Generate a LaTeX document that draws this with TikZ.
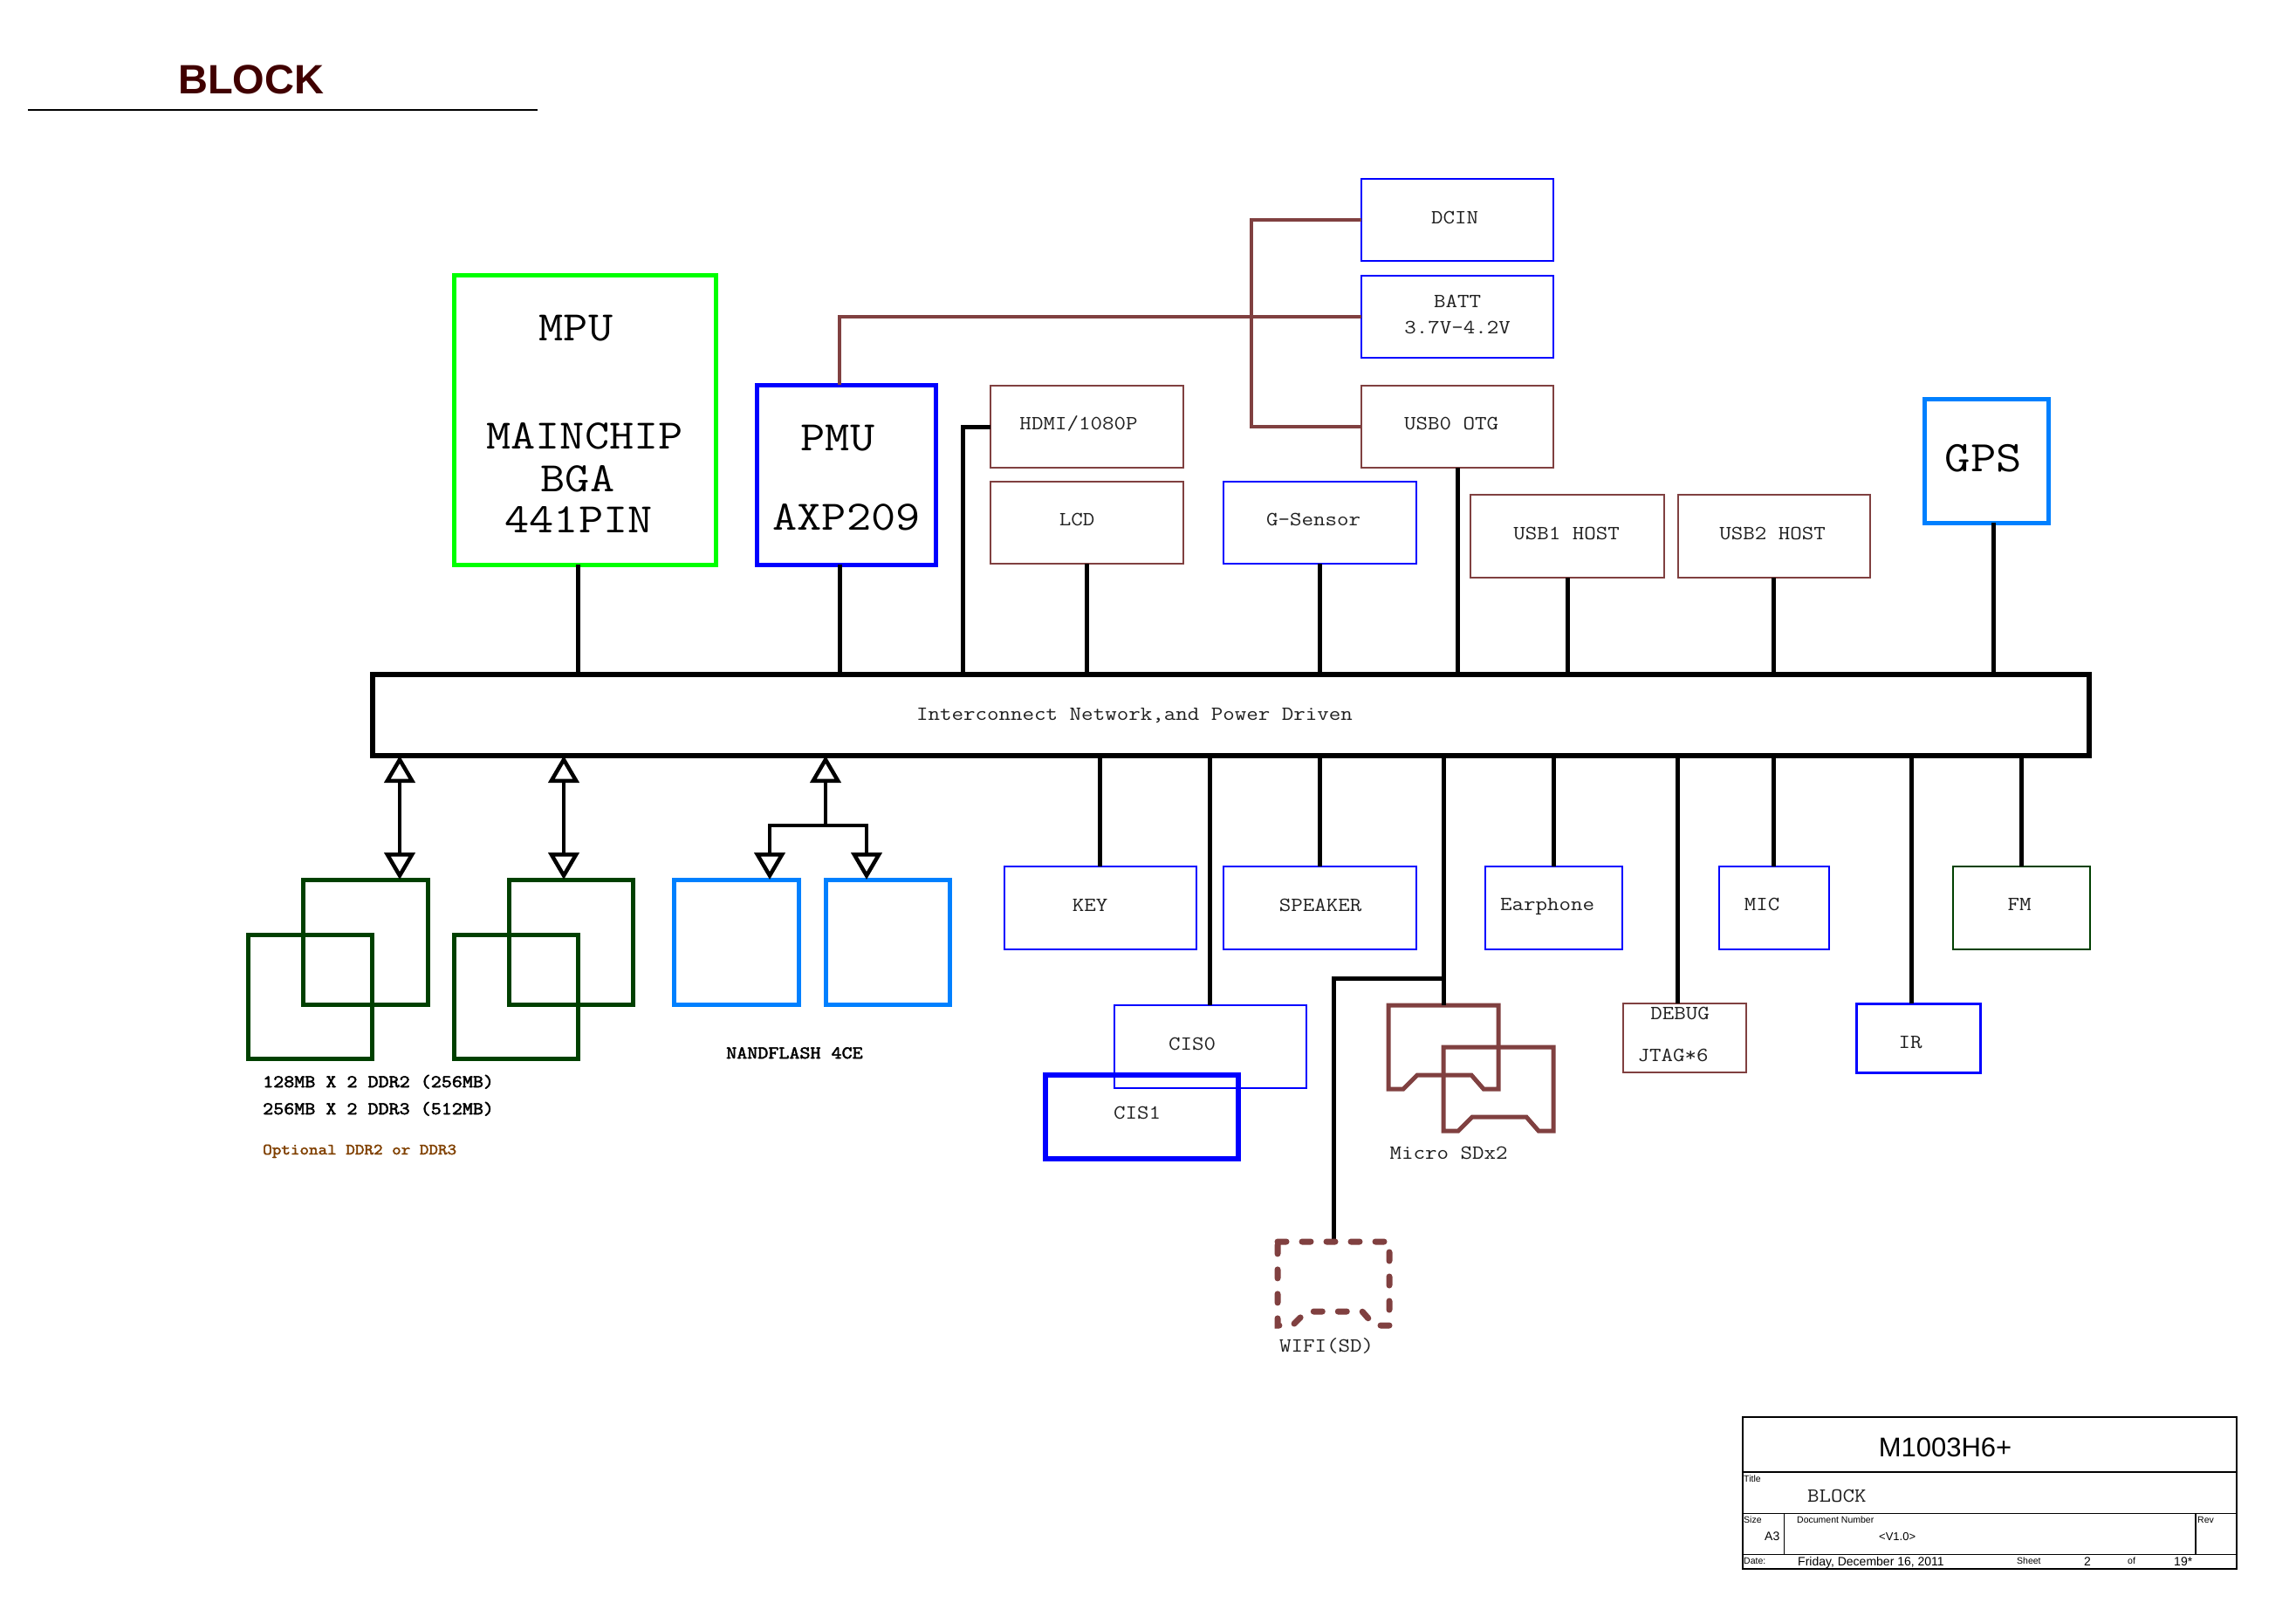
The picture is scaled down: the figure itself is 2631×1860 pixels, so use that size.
\documentclass[tikz,border=0pt]{standalone}
\usepackage{fontspec}
\newfontfamily\mono[FakeStretch=1.14]{Latin Modern Mono}
\newfontfamily\monob[FakeStretch=1.14,FakeBold=2.5]{Latin Modern Mono}
\newfontfamily\sansf{Liberation Sans}
\usetikzlibrary{arrows.meta}
\definecolor{brn}{HTML}{804040}
\definecolor{gblue}{HTML}{0080FF}
\definecolor{dgreen}{HTML}{004000}
\definecolor{orng}{HTML}{804000}
\definecolor{ttl}{HTML}{400000}
\definecolor{txt}{HTML}{202020}
\newcommand\boxat[6]{\node[#1,anchor=north west,minimum width={#5-#3},minimum height={#6-#4},inner sep=0pt,outer sep=0pt] (#2) at (#3,#4) {};}
\newcommand\sdshape[4]{\draw[#1] (#2,#3) -- ++(#4,0) -- ++(0,96) -- ++(-17,0) -- ++(-14,-16) -- ++({-#4+64},0) -- ++(-16,16) -- ++(-17,0) -- cycle;}
\tikzset{
  thinb/.style={draw=blue,line width=2pt},
  thinbr/.style={draw=brn,line width=2pt},
  ddrbox/.style={draw=dgreen,line width=5pt},
  nandbox/.style={draw=gblue,line width=5pt},
  conn/.style={draw=black,line width=5pt},
  pwr/.style={draw=brn,line width=4.5pt},
  lbl/.style={font=\mono\fontsize{23}{27}\selectfont,text=txt,inner sep=0pt,anchor=base},
  biglbl/.style={font=\mono\fontsize{48}{56}\selectfont,text=black,inner sep=0pt,anchor=base},
  ddrtxt/.style={font=\monob\fontsize{20.5}{24}\selectfont,text=black,inner sep=0pt,anchor=base west},
  tiny/.style={font=\sansf\fontsize{10.5}{12}\selectfont,inner sep=0pt,anchor=base west},
  smalltb/.style={font=\sansf\fontsize{14}{16}\selectfont,inner sep=0pt,anchor=base west},
  oatip/.tip={Triangle[open,length=31pt,width=35pt]},
  dblarr/.style={oatip-oatip,line width=4.5pt},
  downarr/.style={-oatip,line width=4.5pt},
}
\begin{document}
\begin{tikzpicture}[x=1pt,y=-1pt]
\useasboundingbox (0,0) rectangle (2631,1860);
\fill[white] (0,0) rectangle (2631,1860);

% page title
\node[font=\sansf\bfseries\fontsize{47}{56}\selectfont,text=ttl,anchor=base west,inner sep=0pt] (title) at (204,107) {BLOCK};
\coordinate (ulA) at (32,126);
\coordinate (ulB) at (616,126);
\draw[line width=1.5pt] (ulA) -- (ulB);

% MPU and PMU
\boxat{draw=green,line width=5pt}{mpu}{520}{315}{820}{647}
\node[biglbl] (tmpu) at (660,390) {MPU};
\node[biglbl] (tmain) at (670,514) {MAINCHIP};
\node[biglbl] (tbga) at (662,563) {BGA};
\node[biglbl] (tpin) at (663,610) {441PIN};
\boxat{draw=blue,line width=5pt}{pmu}{867}{441}{1072}{647}
\node[biglbl] (tpmu) at (960,516) {PMU};
\node[biglbl] (taxp) at (970,607) {AXP209};

% power sources
\boxat{thinb}{dcin}{1560}{205}{1780}{299}
\node[lbl] (tdcin) at (1667,256) {DCIN};
\boxat{thinb}{batt}{1560}{316}{1780}{410}
\node[lbl] (tbatt) at (1670,352) {BATT};
\node[lbl] (tbattv) at (1670,382) {3.7V-4.2V};
\boxat{thinbr}{usb0}{1560}{442}{1780}{536}
\node[lbl] (tusb0) at (1663,492) {USB0 OTG};

% top peripherals
\boxat{thinbr}{hdmi}{1135}{442}{1356}{536}
\node[lbl] (thdmi) at (1236,492) {HDMI/1080P};
\boxat{thinbr}{lcd}{1135}{552}{1356}{646}
\node[lbl] (tlcd) at (1234,602) {LCD};
\boxat{thinb}{gsen}{1402}{552}{1623}{646}
\node[lbl] (tgsen) at (1505,602) {G-Sensor};
\boxat{thinbr}{usb1}{1685}{567}{1907}{662}
\node[lbl] (tusb1) at (1795,618) {USB1 HOST};
\boxat{thinbr}{usb2}{1923}{567}{2143}{662}
\node[lbl] (tusb2) at (2031,618) {USB2 HOST};
\boxat{draw=gblue,line width=5pt}{gps}{2205}{457}{2347}{599}
\node[font=\mono\fontsize{50}{58}\selectfont,inner sep=0pt,anchor=base] (tgps) at (2273,540) {GPS};

% bus
\boxat{draw=black,line width=5.5pt}{bus}{427}{773}{2394}{866}
\node[lbl] (tbus) at (1300,825) {Interconnect Network,and Power Driven};

% power wiring
\draw[pwr] (962,0 |- pmu.north) |- (batt.west);
\draw[pwr] (dcin.west) -| (1434,0 |- usb0.west) -- (usb0.west);

% top connectors
\draw[conn] (662,0 |- mpu.south) -- (662,0 |- bus.north);
\draw[conn] (962,0 |- pmu.south) -- (962,0 |- bus.north);
\draw[conn] (hdmi.west) -| (1103,0 |- bus.north);
\draw[conn] (1245,0 |- lcd.south) -- (1245,0 |- bus.north);
\draw[conn] (1512,0 |- gsen.south) -- (1512,0 |- bus.north);
\draw[conn] (1670,0 |- usb0.south) -- (1670,0 |- bus.north);
\draw[conn] (1796,0 |- usb1.south) -- (1796,0 |- bus.north);
\draw[conn] (2032,0 |- usb2.south) -- (2032,0 |- bus.north);
\draw[conn] (2284,0 |- gps.south) -- (2284,0 |- bus.north);

% bottom peripherals
\boxat{thinb}{key}{1151}{993}{1371}{1088}
\node[lbl] (tkey) at (1249,1044) {KEY};
\boxat{thinb}{spk}{1402}{993}{1623}{1088}
\node[lbl] (tspk) at (1513,1044) {SPEAKER};
\boxat{thinb}{earp}{1702}{993}{1859}{1088}
\node[lbl] (tearp) at (1773,1043) {Earphone};
\boxat{thinb}{mic}{1970}{993}{2096}{1088}
\node[lbl] (tmic) at (2019,1043) {MIC};
\boxat{draw=dgreen,line width=2.5pt}{fm}{2238}{993}{2395}{1088}
\node[lbl] (tfm) at (2314,1043) {FM};
\boxat{thinb}{cis0}{1277}{1152}{1497}{1247}
\node[lbl] (tcis0) at (1366,1203) {CIS0};
\boxat{draw=blue,line width=6pt}{cis1}{1198}{1232}{1419}{1328}
\node[lbl] (tcis1) at (1303,1282) {CIS1};
\boxat{thinbr}{dbg}{1860}{1150}{2001}{1229}
\node[lbl] (tdbg) at (1925,1168) {DEBUG};
\node[lbl] (tjtag) at (1917,1216) {JTAG*6};
\boxat{draw=blue,line width=3pt}{ir}{2127}{1150}{2269}{1229}
\node[lbl] (tir) at (2189,1201) {IR};

\draw[conn] (1260,0 |- bus.south) -- (1260,0 |- key.north);
\draw[conn] (1386,0 |- bus.south) -- (1386,0 |- cis0.north);
\draw[conn] (1512,0 |- bus.south) -- (1512,0 |- spk.north);
\draw[conn] (1780,0 |- bus.south) -- (1780,0 |- earp.north);
\draw[conn] (1922,0 |- bus.south) -- (1922,0 |- dbg.north);
\draw[conn] (2032,0 |- bus.south) -- (2032,0 |- mic.north);
\draw[conn] (2190,0 |- bus.south) -- (2190,0 |- ir.north);
\draw[conn] (2316,0 |- bus.south) -- (2316,0 |- fm.north);

% micro SD and wifi
\sdshape{draw=brn,line width=5pt}{1591}{1152}{126}
\sdshape{draw=brn,line width=5pt}{1654}{1200}{126}
\coordinate (sdtop) at (1654,1152);
\coordinate (sdbr) at (1654,1121);
\coordinate (wifitop) at (1528,1423);
\draw[conn] (1654,0 |- bus.south) -- (sdtop);
\draw[conn] (sdbr) -| (wifitop);
\sdshape{draw=brn,line width=7pt,line cap=round,dash pattern=on 10pt off 18pt}{1464}{1423}{128}
\node[lbl] (tsd) at (1660,1328) {Micro SDx2};
\node[lbl] (twifi) at (1520,1549) {WIFI(SD)};

% memory
\boxat{ddrbox}{ddra1}{347}{1008}{490}{1151}
\boxat{ddrbox}{ddrb1}{284}{1071}{426}{1213}
\boxat{ddrbox}{ddra2}{583}{1008}{725}{1151}
\boxat{ddrbox}{ddrb2}{520}{1071}{662}{1213}
\boxat{nandbox}{nand1}{772}{1008}{915}{1151}
\boxat{nandbox}{nand2}{946}{1008}{1088}{1151}
\draw[dblarr] (458,0 |- bus.south) -- (458,0 |- ddra1.north);
\draw[dblarr] (646,0 |- bus.south) -- (646,0 |- ddra2.north);
\coordinate (nbr) at (946,946);
\draw[downarr] (nbr) -- (946,0 |- bus.south);
\draw[downarr] (nbr) -| (882,0 |- nand1.north);
\draw[downarr] (nbr) -| (993,0 |- nand2.north);
\node[ddrtxt] (tddr2) at (301,1246) {128MB X 2 DDR2 (256MB)};
\node[ddrtxt] (tddr3) at (301,1277) {256MB X 2 DDR3 (512MB)};
\node[ddrtxt,font=\monob\fontsize{18}{22}\selectfont,text=orng] (topt) at (301,1323) {Optional DDR2 or DDR3};
\node[ddrtxt] (tnand) at (832,1213) {NANDFLASH 4CE};

% title block
\boxat{draw=black,line width=2pt}{tb}{1997}{1624}{2563}{1798}
\coordinate (r1) at (0,1687);
\coordinate (r2) at (0,1734);
\coordinate (r3) at (0,1781);
\draw[line width=2.5pt] (tb.west |- r1) -- (tb.east |- r1);
\draw[line width=1pt] (tb.west |- r2) -- (tb.east |- r2);
\draw[line width=1pt] (tb.west |- r3) -- (tb.east |- r3);
\draw[line width=1pt] (2044,0 |- r2) -- (2044,0 |- r3);
\draw[line width=2pt] (2516,0 |- r2) -- (2516,0 |- r3);
\node[font=\sansf\fontsize{31}{36}\selectfont,inner sep=0pt,anchor=base] (tbname) at (2229,1669) {M1003H6+};
\node[tiny] (tbtitle) at (1998,1698) {Title};
\node[font=\mono\fontsize{23}{27}\selectfont,text=txt,inner sep=0pt,anchor=base west] (tbblock) at (2071,1721) {BLOCK};
\node[tiny] (tbsize) at (1998,1745) {Size};
\node[smalltb] (tba3) at (2022,1765) {A3};
\node[tiny] (tbdoc) at (2059,1745) {Document Number};
\node[smalltb,font=\sansf\fontsize{13}{15}\selectfont] (tbver) at (2153,1765) {<V1.0>};
\node[tiny] (tbrev) at (2518,1745) {Rev};
\node[tiny] (tbdate) at (1998,1792) {Date:};
\node[smalltb] (tbday) at (2060,1794) {Friday, December 16, 2011};
\node[tiny] (tbsheet) at (2311,1792) {Sheet};
\node[smalltb,anchor=base] (tbnum) at (2392,1794) {2};
\node[tiny] (tbof) at (2438,1792) {of};
\node[smalltb] (tbtot) at (2491,1794) {19*};
\end{tikzpicture}
\end{document}
